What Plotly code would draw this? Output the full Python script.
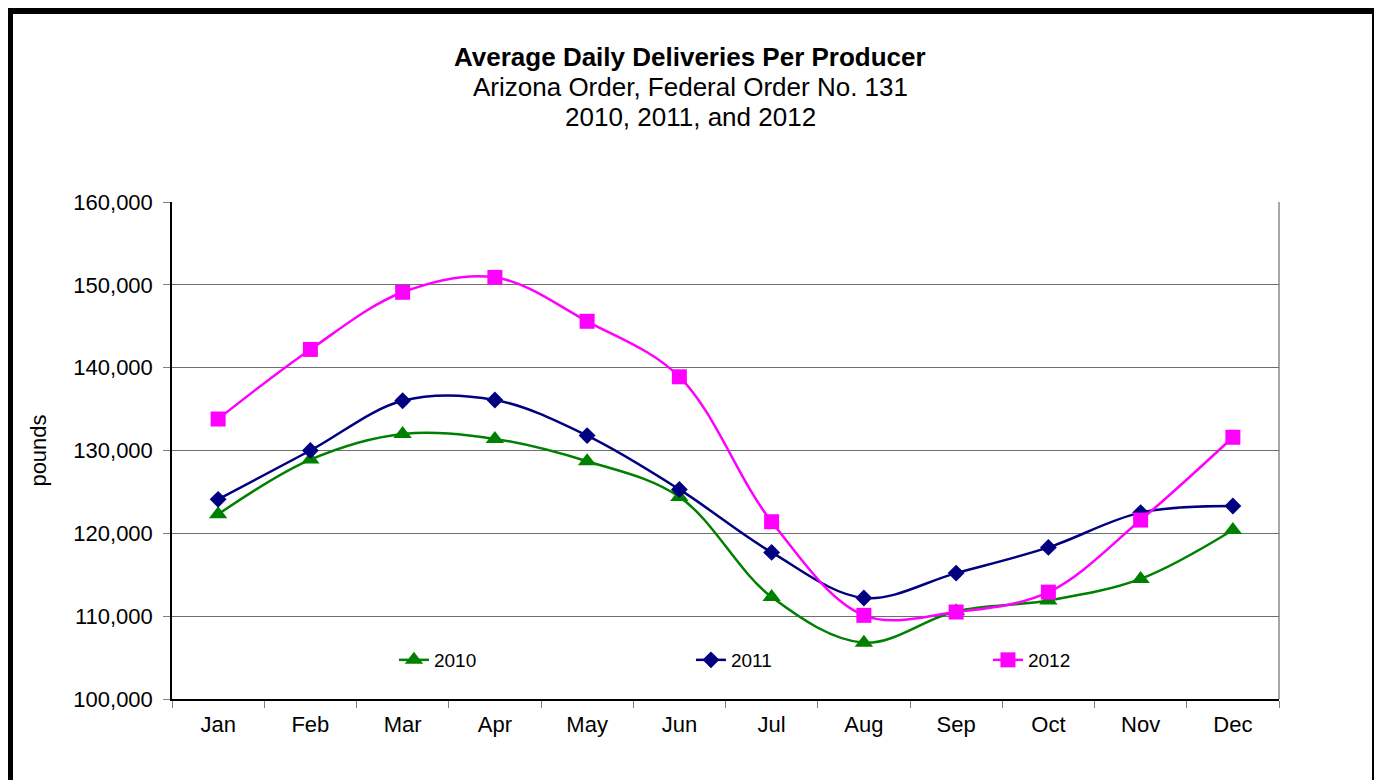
import plotly.graph_objects as go



months=['Jan','Feb','Mar','Apr','May','Jun','Jul','Aug','Sep','Oct','Nov','Dec']
y2010=[122300,128900,132000,131400,128700,124400,112300,106800,110600,111900,114500,120400]
y2011=[124100,130000,136000,136100,131800,125300,117700,112200,115200,118300,122500,123300]
y2012=[133800,142200,149100,150900,145600,138900,121400,110100,110500,112900,121600,131600]
yticks=[100000,110000,120000,130000,140000,150000,160000]

series={'2010':y2010,
        '2011':y2011,
        '2012':y2012}
colors={'2010':'#008000',
        '2011':'#000080',
        '2012':'#FF00FF'}
symbols={'2010':'triangle-up',
         '2011':'diamond',
         '2012':'square'}
sizes={'2010':16,
       '2011':13,
       '2012':15}

font='Arial, Liberation Sans, sans-serif'

# page body keeps an 8px margin, so the figure is 8px smaller and shifted
W,H=1374,772
L,T,R,B=164,194,103,81
pw,ph=W-L-R,H-T-B


def px(x):
    return (x-L)/pw


def py(y):
    return (T+ph-y)/ph


fig=go.Figure()
for i in ['2010','2011','2012']:
    fig=fig.add_trace(go.Scatter(name=i,
                                 mode='lines+markers',
                                 x=months,
                                 y=series[i],
                                 line={'color':colors[i],
                                       'width':2.5,
                                       'shape':'spline',
                                       'smoothing':1},
                                 marker={'color':colors[i],
                                         'symbol':symbols[i],
                                         'size':sizes[i],
                                         'line':{'width':0}}))

fig.update_layout(
    width=W,
    height=H,
    paper_bgcolor='white',
    plot_bgcolor='white',
    showlegend=True,
    legend={'orientation':'h',
            'font':{'size':19,'family':font,'color':'black'},
            'entrywidth':252,
            'entrywidthmode':'pixels',
            'bgcolor':'rgba(0,0,0,0)',
            'x':0.2005,
            'xanchor':'left',
            'y':py(652),
            'yanchor':'middle'},
    margin={'b':B,
            'l':L,
            'r':R,
            't':T},
    xaxis={'type':'category',
           'range':[-0.5,11.5],
           'tickson':'boundaries',
           'ticks':'outside',
           'ticklen':7,
           'tickcolor':'#808080',
           'tickfont':{'size':22,'family':font,'color':'black'},
           'ticklabelstandoff':5,
           'showline':True,
           'linecolor':'black',
           'linewidth':1.5,
           'showgrid':False,
           'zeroline':False,
           'fixedrange':True},
    yaxis={'range':[100000,160000],
           'tickvals':yticks,
           'tickformat':',d',
           'ticks':'outside',
           'ticklen':7,
           'tickcolor':'#808080',
           'tickfont':{'size':22,'family':font,'color':'black'},
           'ticklabelstandoff':6,
           'title':{'text':'pounds',
                    'font':{'size':22,'family':font,'color':'black'},
                    'standoff':21},
           'showline':True,
           'linecolor':'black',
           'linewidth':1.5,
           'showgrid':True,
           'gridcolor':'#6e6e6e',
           'gridwidth':1.2,
           'zeroline':False,
           'fixedrange':True},
    font={'family':font,
          'color':'black'})

# grey right edge of the plot area
fig.add_shape(type='line',xref='paper',yref='paper',x0=1,x1=1,y0=0,y1=1,
              line={'color':'#6e6e6e','width':1.2})
# thick outer frame
fig.add_shape(type='rect',xref='paper',yref='paper',
              x0=px(1),x1=px(1368),
              y0=py(800),y1=py(2),
              line={'color':'black','width':8})

titles=[('<b>Average Daily Deliveries Per Producer</b>',49),
        ('Arizona Order, Federal Order No. 131',79),
        ('2010, 2011, and 2012',109)]
for t,yy in titles:
    fig.add_annotation(text=t,
                       showarrow=False,
                       font={'size':26,'family':font,'color':'black'},
                       x=px(682),
                       xanchor='center',
                       xref='paper',
                       y=py(yy),
                       yanchor='middle',
                       yref='paper')

fig.write_html('out.html',
               config={'displayModeBar':False})
